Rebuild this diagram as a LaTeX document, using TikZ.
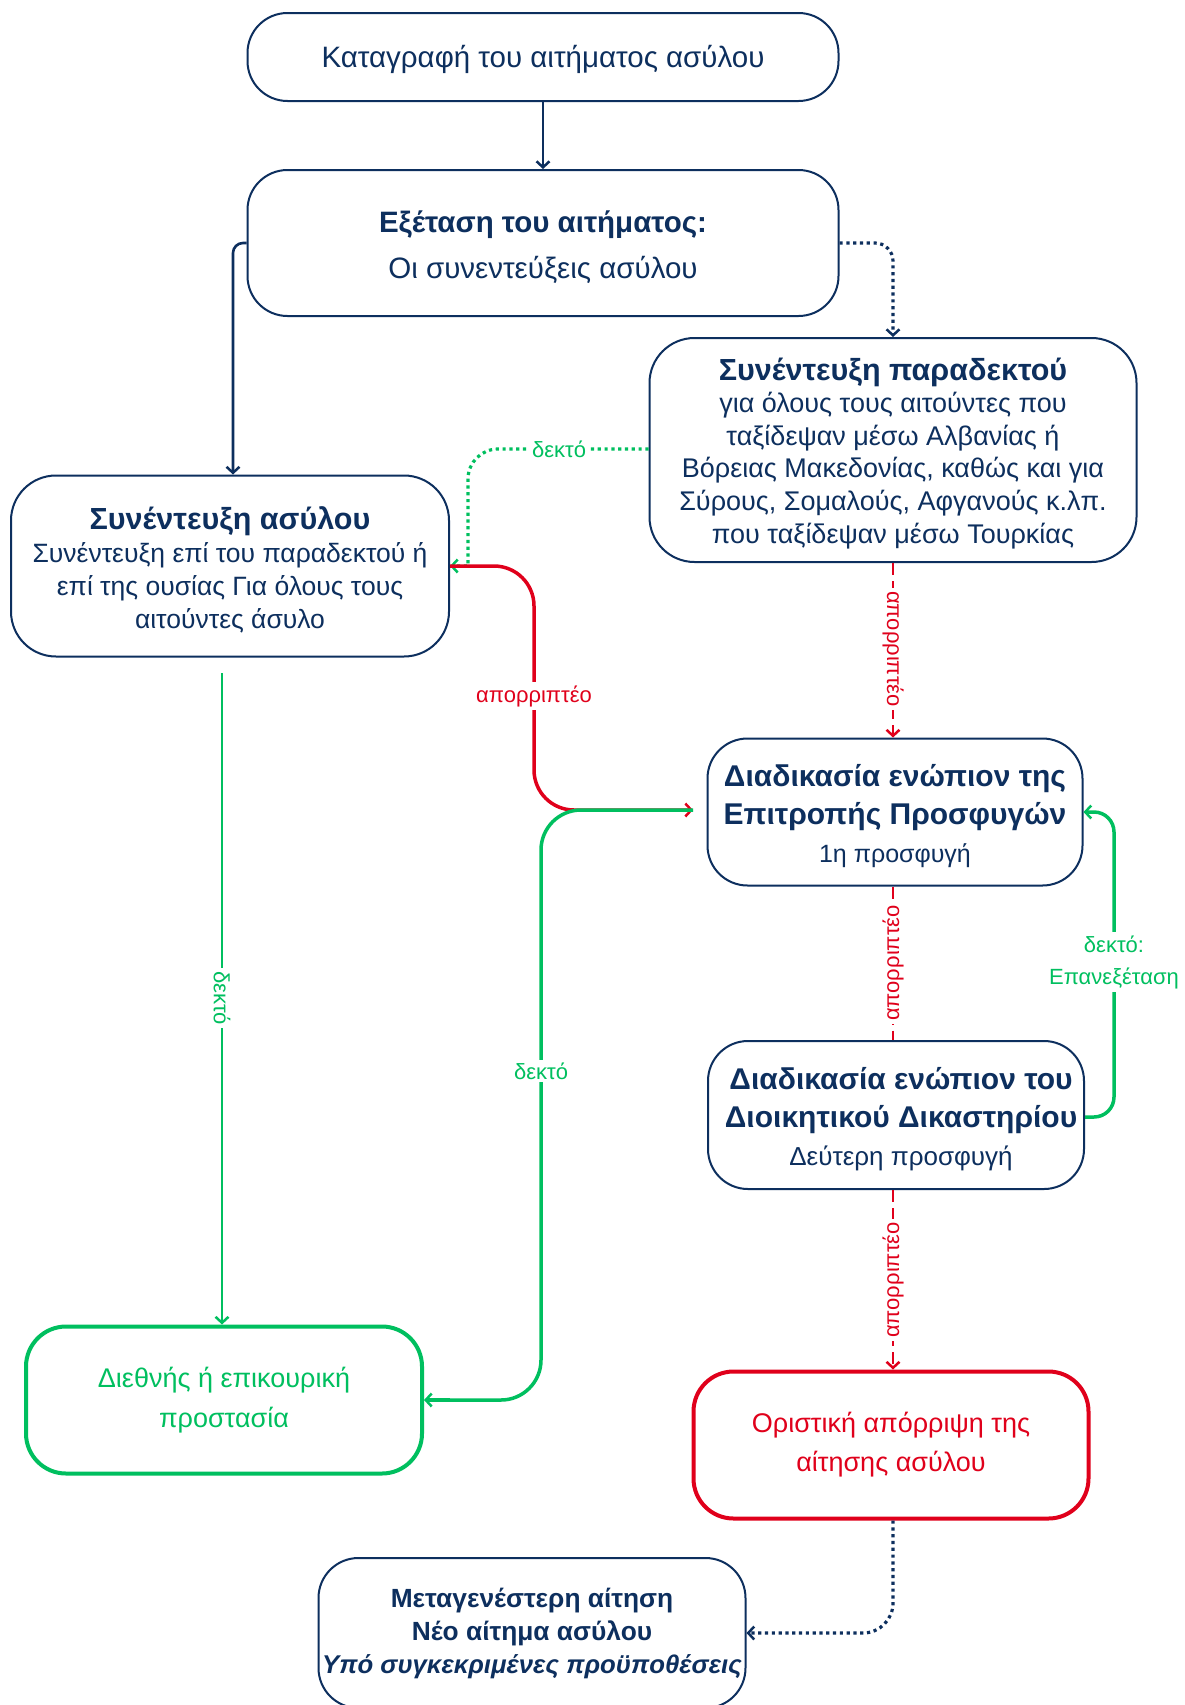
\documentclass[tikz,border=0pt]{standalone}
\usepackage{fontspec}
\setmainfont{Liberation Sans}
\usetikzlibrary{arrows.meta}
\definecolor{navy}{HTML}{0D2F5E}
\definecolor{grn}{HTML}{00BF5F}
\definecolor{rd}{HTML}{E0001B}
\newcommand\tstr[1]{\rule{0pt}{#1}}
\tikzset{
  box/.style={draw=navy, line width=2pt, rounded corners=40pt, align=center, text=navy, inner sep=0pt, fill=white},
  gbox/.style={box, draw=grn, text=grn, line width=4pt},
  rbox/.style={box, draw=rd, text=rd, line width=4pt},
  tip/.style={-{Straight Barb[length=6pt,width=13pt,line width=2.5pt]}},
  navyline/.style={draw=navy, line width=2.6pt, tip},
  navydot/.style={draw=navy, line width=3.2pt, dash pattern=on 3.2pt off 3.6pt, tip},
  gdot/.style={draw=grn, line width=3.2pt, dash pattern=on 3.2pt off 3.6pt, tip},
  gline/.style={draw=grn, line width=3.5pt, tip},
  rline/.style={draw=rd, line width=3.5pt, tip},
  rdash/.style={draw=rd, line width=2.6pt, dash pattern=on 12pt off 6pt},
  lab/.style={fill=white, inner sep=3pt, font=\fontsize{22}{26}\selectfont},
}
\begin{document}
\begin{tikzpicture}[x=1pt,y=-1pt]
\useasboundingbox[fill=white] (0,0) rectangle (1184,1705);

\node[box, minimum width=591, minimum height=88, font=\fontsize{29.5}{36}\selectfont] (b1) at (543,57) {\tstr{0.9em}Καταγραφή του αιτήματος ασύλου};

\node[box, minimum width=591, minimum height=146, font=\fontsize{29.5}{45.5}\selectfont] (b2) at (543,243)
  {\tstr{1.03em}\textbf{Εξέταση του αιτήματος:}\\ Οι συνεντεύξεις ασύλου};

\node[box, rounded corners=45pt, minimum width=487, minimum height=224, font=\fontsize{27}{32.6}\selectfont] (b3) at (893,450)
  {{\fontsize{30.5}{35}\selectfont\bfseries\tstr{0.95em}Συνέντευξη παραδεκτού}\\
   για όλους τους αιτούντες που\\ ταξίδεψαν μέσω Αλβανίας ή\\ Βόρειας Μακεδονίας, καθώς και για\\
   Σύρους, Σομαλούς, Αφγανούς κ.λπ.\\ που ταξίδεψαν μέσω Τουρκίας};

\node[box, rounded corners=45pt, minimum width=438, minimum height=181, font=\fontsize{26.5}{33}\selectfont] (b4) at (230,566)
  {{\fontsize{30.5}{35}\selectfont\bfseries\tstr{1.02em}Συνέντευξη ασύλου}\\
   Συνέντευξη επί του παραδεκτού ή\\ επί της ουσίας Για όλους τους\\ αιτούντες άσυλο};

\node[box, minimum width=375, minimum height=147, font=\fontsize{30}{38}\selectfont] (b5) at (895,812)
  {\tstr{1.03em}\textbf{Διαδικασία ενώπιον της}\\ \textbf{Επιτροπής Προσφυγών}\\ {\fontsize{25}{36}\selectfont 1η προσφυγή}};

\node[box, minimum width=376, minimum height=148, font=\fontsize{30}{38}\selectfont] (b6) at (896,1115)
  {\tstr{1.03em}\hspace*{10pt}\textbf{Διαδικασία ενώπιον του}\\ \hspace*{10pt}\textbf{Διοικητικού Δικαστηρίου}\\ \hspace*{10pt}{\fontsize{26}{36}\selectfont Δεύτερη προσφυγή}};

\node[gbox, minimum width=396, minimum height=147, font=\fontsize{27}{40}\selectfont] (b7) at (224,1400)
  {Διεθνής ή επικουρική\\ προστασία};

\node[rbox, minimum width=395, minimum height=147, font=\fontsize{27}{39}\selectfont] (b8) at (891,1445)
  {Οριστική απόρριψη της\\ αίτησης ασύλου};

\node[box, minimum width=427, minimum height=150, font=\fontsize{25.7}{33}\selectfont\bfseries] (b9) at (532,1633)
  {{\fontsize{26.3}{33}\selectfont Μεταγενέστερη αίτηση}\\ {\fontsize{26.3}{33}\selectfont Νέο αίτημα ασύλου}\\ \textit{Υπό συγκεκριμένες προϋποθέσεις}};

% connectors
\draw[navyline] (b1.south) -- (b2.north);
\draw[navyline, rounded corners=10pt] (b2.west) -| ([xshift=3pt]b4.north);
\draw[navydot, rounded corners=18pt] (b2.east) -| (b3.north);

\coordinate (g1) at (468,449);
\coordinate (g2) at (468,566);
\draw[gdot] (b3.west |- g1) [rounded corners=30pt] -- (g1) [sharp corners] -- (g2) -- (b4.east |- g2);
\node[lab, text=grn] (l1) at (559,449) {δεκτό};

\coordinate (r1) at (534,566);
\coordinate (t5) at (693,810);
\draw[rline, rounded corners=40pt] (b4.east |- r1) -- (r1) -- (534,810) -- (t5);
\draw[draw=grn, line width=3.5pt, rounded corners=40pt] (t5) -- (541,810) -- (541,1400) -- (430,1400);
\draw[gline] (450,1400) -- (b7.east |- 0,1400);
\node[lab, text=rd] (l2) at (534,696) {απορριπτέο};
\node[lab, text=grn] (l3) at (541,1071) {δεκτό};

\coordinate (v1) at (222,673);
\draw[draw=grn, line width=2.5pt, tip] (v1) -- (v1 |- b7.north);
\node[lab, text=grn, rotate=-90] (l4) at (222,998) {δεκτό};

\draw[rdash, tip] (b3.south) -- (b3.south |- b5.north);
\node[lab, text=rd, rotate=-90] (l5) at (893,649) {απορριπτέο};

\draw[rdash] (b5.south -| b3.south) -- (b3.south |- b6.north);
\node[lab, text=rd, rotate=90] (l6) at (893,963) {απορριπτέο};

\draw[rdash, tip] (b6.south -| b3.south) -- (b3.south |- b8.north);
\node[lab, text=rd, rotate=90] (l7) at (893,1280) {απορριπτέο};

\coordinate (gr) at (1114,1117);
\draw[gline, rounded corners=20pt] (b6.east |- gr) -- (gr) -- (1114,812) -- (b5.east |- 0,812);
\node[lab, text=grn, align=center, font=\fontsize{22}{32}\selectfont] (l8) at (1114,962) {δεκτό:\\Επανεξέταση};

\draw[navydot, rounded corners=30pt] (b8.south -| b3.south) |- (b9.east |- 0,1633);
\end{tikzpicture}
\end{document}
